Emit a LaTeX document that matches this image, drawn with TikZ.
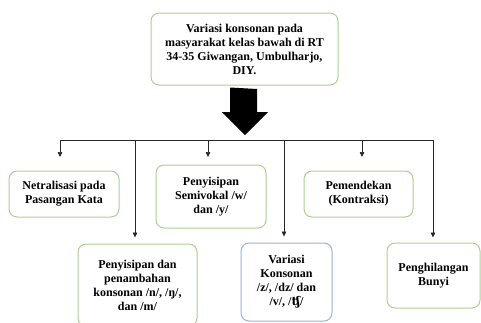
\documentclass[tikz,border=0pt]{standalone}
\usepackage{fontspec}
\setmainfont{Liberation Serif}
\newfontfamily\ipafont{DejaVu Serif}
\usetikzlibrary{arrows.meta}
\definecolor{boxgreen}{RGB}{170,208,145}
\definecolor{boxblue}{RGB}{150,180,215}
\begin{document}
\begin{tikzpicture}[x=1pt,y=-1pt,
  box/.style={draw=boxgreen,line width=1pt,rounded corners=8pt,align=center,
    font=\fontsize{12}{14}\selectfont\bfseries,inner sep=2pt},
  conn/.style={line width=0.7pt,draw=black!85},
  tip/.style={conn,-{Triangle[length=5pt,width=4.5pt]}}]
\useasboundingbox (0,0) rectangle (481,322);
\node[box,minimum width=187pt,minimum height=72pt] (top) at (244.5,49)
  {Variasi konsonan pada\\masyarakat kelas bawah di RT\\34-35 Giwangan, Umbulharjo,\\DIY.};
\node[box,minimum width=110pt,minimum height=46pt] (netr) at (64,194)
  {Netralisasi pada\\Pasangan Kata};
\node[box,minimum width=110pt,minimum height=63pt] (semi) at (211,196.5)
  {Penyisipan\\Semivokal /w/\\dan /y/};
\node[box,minimum width=119pt,minimum height=82pt] (peny) at (137.5,285)
  {Penyisipan dan\\penambahan\\konsonan /n/, /ŋ/,\\dan /m/};
\node[box,draw=boxblue,minimum width=91pt,minimum height=78pt] (vari) at (286.5,282)
  {Variasi\\Konsonan\\/z/, /dz/ dan\\/v/, /{\ipafont\bfseries ʧ}/};
\node[box,minimum width=109pt,minimum height=46pt] (pem) at (358.5,194)
  {Pemendekan\\(Kontraksi)};
\node[box,minimum width=93pt,minimum height=65pt] (peng) at (433.5,275.5)
  {Penghilangan\\Bunyi};
% big arrow
\fill[black] (top.south -| 230,0) ++(0,2) coordinate (sa)
  -- (257,89) -- (257,112) -- (268,112) -- (245,135) coordinate (bigtip)
  -- (222,112) -- (230,112) -- cycle;
% bar
\coordinate (b1) at (60,140);
\coordinate (b2) at (135,140);
\coordinate (b3) at (208,140);
\coordinate (b4) at (284,140);
\coordinate (b5) at (362,140);
\coordinate (b6) at (433,140);
\draw[conn] (b1) -- (b6);
\coordinate (e1) at (60,157);
\coordinate (e3) at (208,157);
\coordinate (e5) at (362,157);
\draw[tip] (b1) -- (e1);
\draw[tip] (b3) -- (e3);
\draw[tip] (b5) -- (e5);
\draw[tip,shorten >=6pt] (b2) -- (b2 |- peny.north);
\draw[tip,shorten >=6pt] (b4) -- (b4 |- vari.north);
\draw[tip,shorten >=5pt] (b6) -- (b6 |- peng.north);
\end{tikzpicture}
\end{document}
